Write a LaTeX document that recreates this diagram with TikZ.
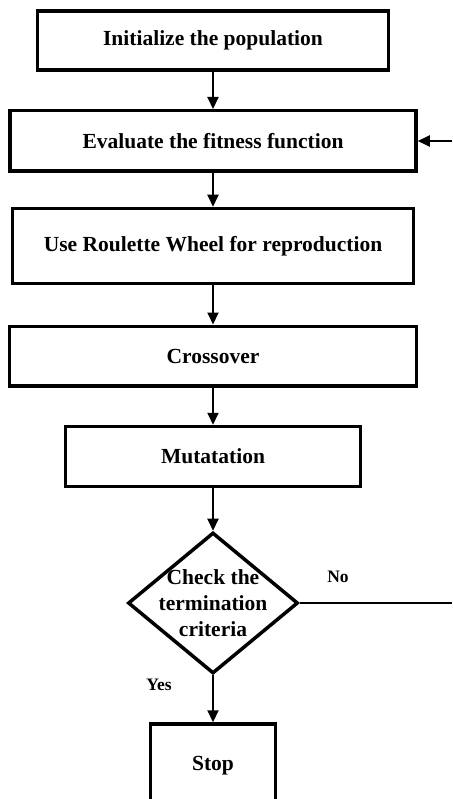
\documentclass[tikz,border=0pt]{standalone}
\usepackage{fontspec}
\setmainfont{Liberation Serif}
\usetikzlibrary{shapes,arrows.meta,positioning}

\begin{document}
\begin{tikzpicture}[x=1pt,y=-1pt,
	stepbox/.style={shape=rectangle,draw,line width=3.5pt,inner sep=0pt,font=\bfseries\fontsize{21.5}{26}\selectfont},
	flow/.style={line width=2pt,-{Triangle[length=12pt,width=11pt]}},
	answer/.style={font=\bfseries\fontsize{17.5}{20}\selectfont}]
	\useasboundingbox (0,0) rectangle (452,799);
	\clip (0,0) rectangle (452,799);
	
	\node[stepbox,minimum width=351pt,minimum height=59pt] (init) at (213,40.5) {Initialize the population};
	\node[stepbox,minimum width=406pt,minimum height=60.5pt] (eval) at (213,141) {Evaluate the fitness function};
	\node[stepbox,minimum width=401pt,minimum height=75pt] (roul) at (213,246) {Use Roulette Wheel for reproduction};
	\node[stepbox,minimum width=407pt,minimum height=59.5pt] (cross) at (213,356) {Crossover};
	\node[stepbox,minimum width=295pt,minimum height=60pt] (mut) at (213,456.5) {Mutatation};
	\node[stepbox,shape=diamond,minimum width=170pt,minimum height=141pt] (check) at (213,603) {};
	\node[font=\bfseries\fontsize{21.5}{26}\selectfont,align=center] (checktext) at (check.center) {Check the\\termination\\criteria};
	\node[stepbox,minimum width=125pt,minimum height=90pt] (stop) at (213,769) {\raisebox{11pt}{Stop}};
	\node[answer] (no) at (338,577) {No};
	\node[answer] (yes) at (159,685) {Yes};
	\coordinate (loopin) at (452,141);
	\coordinate (loopout) at (452,603);
	
	\draw[flow] (init) -- (eval);
	\draw[flow] (eval) -- (roul);
	\draw[flow] (roul) -- (cross);
	\draw[flow] (cross) -- (mut);
	\draw[flow] (mut) -- (check);
	\draw[flow] (check) -- (stop);
	\draw[line width=2pt] (check.east) -- (loopout);
	\draw[flow] (loopin) -- (eval.east);
\end{tikzpicture}
\end{document}
